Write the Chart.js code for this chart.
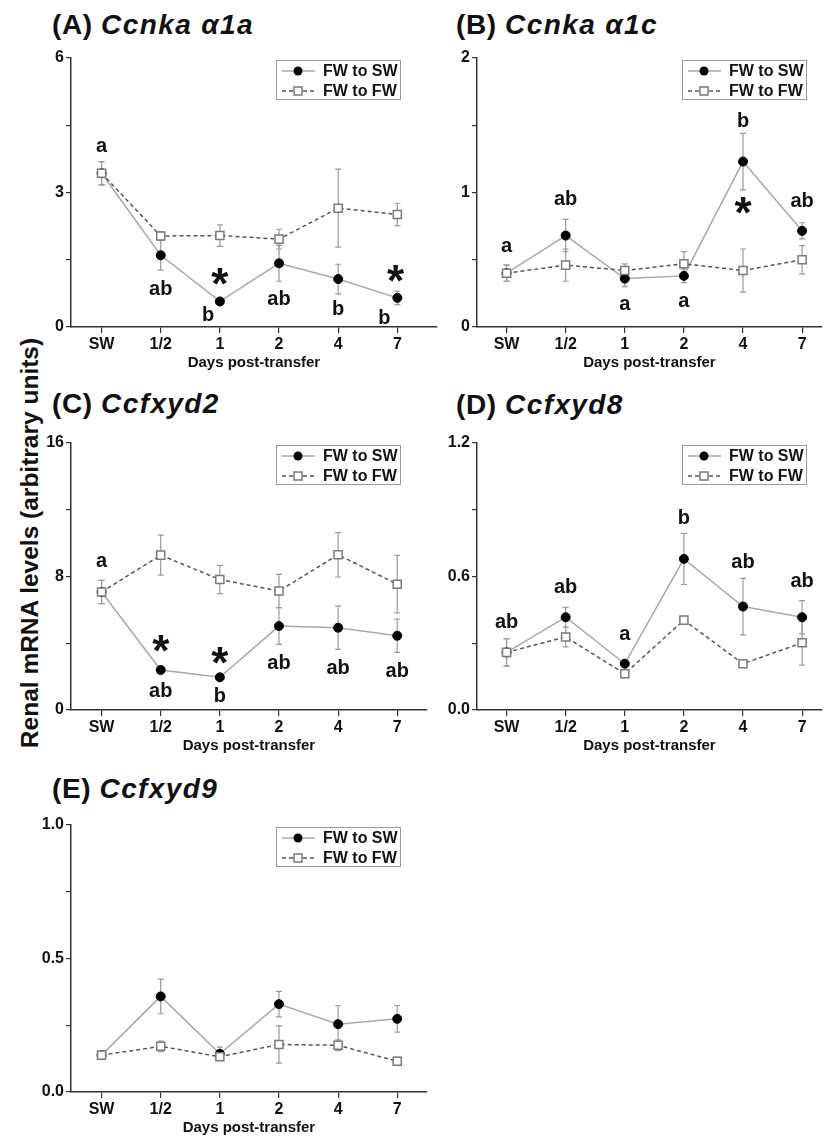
<!DOCTYPE html>
<html>
<head>
<meta charset="utf-8">
<script src="https://cdn.jsdelivr.net/npm/chart.js@4.4.1/dist/chart.umd.min.js"></script>
<style>
  body{margin:0;background:#fff;}
  #page{position:relative;width:827px;height:1136px;overflow:hidden;font-family:"Liberation Sans",Arial,sans-serif;color:#111;}
  .ttl{position:absolute;font-size:28px;font-weight:bold;line-height:28px;white-space:nowrap;letter-spacing:0.6px;}
  .ttl i{font-style:italic;letter-spacing:1.4px;}
  .cv{position:absolute;}
  #ylab{position:absolute;left:30px;top:543px;transform:translate(-50%,-50%) rotate(-90deg);font-size:24.5px;font-weight:bold;white-space:nowrap;line-height:1;}
</style>
</head>
<body>
<div id="page">
  <div class="ttl" style="left:52px;top:11px">(A) <i>Ccnka α1a</i></div>
  <div class="ttl" style="left:456px;top:11px">(B) <i>Ccnka α1c</i></div>
  <div class="ttl" style="left:52px;top:390px">(C) <i>Ccfxyd2</i></div>
  <div class="ttl" style="left:456px;top:391px">(D) <i>Ccfxyd8</i></div>
  <div class="ttl" style="left:52px;top:775px">(E) <i>Ccfxyd9</i></div>
  <div id="ylab">Renal mRNA levels (arbitrary units)</div>
  <canvas id="cA" class="cv"></canvas>
  <canvas id="cB" class="cv"></canvas>
  <canvas id="cC" class="cv"></canvas>
  <canvas id="cD" class="cv"></canvas>
  <canvas id="cE" class="cv"></canvas>
</div>
<script>
const days = ['SW', '1/2', '1', '2', '4', '7'];
const legendLabels = ['FW to SW', 'FW to FW'];

// (A) Ccnka α1a
const a1aSW = [3.43, 1.60, 0.57, 1.42, 1.07, 0.65];
const a1aSWErr = [0.26, 0.33, 0.06, 0.40, 0.33, 0.15];
const a1aFW = [3.43, 2.03, 2.04, 1.96, 2.65, 2.51];
const a1aFWErr = [0.26, 0.10, 0.24, 0.22, 0.87, 0.25];
const a1aYTicks = [0, 3, 6];
const a1aYLabels = ['0', '3', '6'];
const a1aMarks = [['a', 0, 4.03], ['ab', 1, 0.89], ['b', 1.8, 0.30], ['*', 2, 1.12], ['ab', 3, 0.66], ['b', 4, 0.43], ['b', 4.78, 0.24], ['*', 4.97, 1.20]];

// (B) Ccnka α1c
const a1cSW = [0.40, 0.68, 0.36, 0.38, 1.23, 0.715];
const a1cSWErr = [0.06, 0.12, 0.06, 0.05, 0.21, 0.06];
const a1cFW = [0.40, 0.46, 0.42, 0.47, 0.42, 0.50];
const a1cFWErr = [0.06, 0.12, 0.05, 0.09, 0.16, 0.105];
const a1cYTicks = [0, 1, 2];
const a1cYLabels = ['0', '1', '2'];
const a1cMarks = [['a', 0, 0.60], ['ab', 1, 0.96], ['a', 2, 0.17], ['a', 3, 0.19], ['b', 4, 1.54], ['*', 4, 0.90], ['ab', 5, 0.95]];

// (C) Ccfxyd2
const fxyd2SW = [7.07, 2.40, 1.96, 5.03, 4.93, 4.45];
const fxyd2SWErr = [0.7, 0.2, 0.1, 1.1, 1.3, 1.0];
const fxyd2FW = [7.07, 9.28, 7.82, 7.13, 9.30, 7.54];
const fxyd2FWErr = [0.7, 1.2, 0.85, 1.0, 1.33, 1.72];
const fxyd2YTicks = [0, 8, 16];
const fxyd2YLabels = ['0', '8', '16'];
const fxyd2Marks = [['a', 0, 8.88], ['*', 1, 3.99], ['ab', 1, 1.24], ['*', 2, 3.29], ['b', 2, 0.9], ['ab', 3, 2.93], ['ab', 4, 2.63], ['ab', 5, 2.45]];

// (D) Ccfxyd8
const fxyd8SW = [0.259, 0.417, 0.208, 0.679, 0.465, 0.417];
const fxyd8SWErr = [0.062, 0.044, 0.01, 0.115, 0.127, 0.075];
const fxyd8FW = [0.259, 0.328, 0.163, 0.404, 0.208, 0.302];
const fxyd8FWErr = [0.062, 0.044, 0.01, 0.01, 0.01, 0.10];
const fxyd8YTicks = [0, 0.6, 1.2];
const fxyd8YLabels = ['0.0', '0.6', '1.2'];
const fxyd8Marks = [['ab', 0, 0.404], ['ab', 1, 0.558], ['a', 2, 0.341], ['b', 3, 0.871], ['ab', 4, 0.673], ['ab', 5, 0.587]];

// (E) Ccfxyd9
const fxyd9SW = [0.138, 0.358, 0.143, 0.329, 0.254, 0.274];
const fxyd9SWErr = [0.01, 0.065, 0.025, 0.048, 0.07, 0.05];
const fxyd9FW = [0.138, 0.171, 0.132, 0.178, 0.175, 0.115];
const fxyd9FWErr = [0.01, 0.02, 0.01, 0.07, 0.02, 0.015];
const fxyd9YTicks = [0, 0.5, 1.0];
const fxyd9YLabels = ['0.0', '0.5', '1.0'];
const fxyd9Marks = [];

const FONT = '"Liberation Sans", Arial, sans-serif';
const INK = '#111';
const AXIS = '#333';
const PAD_TOP = 13, X_AXIS_H = 45;

// error bars under the markers
const errorBars = {
  id: 'errorBars',
  beforeDatasetsDraw(chart) {
    const { ctx, scales: { x, y } } = chart;
    ctx.save();
    ctx.strokeStyle = '#9a9a9a';
    ctx.lineWidth = 1.2;
    chart.data.datasets.forEach((ds) => {
      ds.data.forEach((p, i) => {
        const e = ds.errs[i];
        const px = x.getPixelForValue(p.x);
        const top = y.getPixelForValue(p.y + e);
        const bot = y.getPixelForValue(p.y - e);
        ctx.beginPath();
        ctx.moveTo(px, top); ctx.lineTo(px, bot);
        ctx.moveTo(px - 3, top); ctx.lineTo(px + 3, top);
        ctx.moveTo(px - 3, bot); ctx.lineTo(px + 3, bot);
        ctx.stroke();
      });
    });
    ctx.restore();
  }
};

// significance letters and asterisks
const marksPlugin = {
  id: 'marks',
  afterDatasetsDraw(chart, args, opts) {
    const { ctx, scales: { x, y } } = chart;
    ctx.save();
    ctx.fillStyle = INK;
    ctx.textAlign = 'center';
    ctx.textBaseline = 'alphabetic';
    (opts.list || []).forEach(([txt, mx, my]) => {
      ctx.font = txt === '*' ? `bold 44px ${FONT}` : `bold 20px ${FONT}`;
      const m = ctx.measureText(txt);
      const px = x.getPixelForValue(mx);
      const py = y.getPixelForValue(my);
      ctx.fillText(txt, px, py + (m.actualBoundingBoxAscent - m.actualBoundingBoxDescent) / 2);
    });
    ctx.restore();
  }
};

// boxed legend, top right
const boxLegend = {
  id: 'boxLegend',
  afterDraw(chart) {
    const { ctx, chartArea } = chart;
    const left = chartArea.left + 205, top = chartArea.top + 2;
    ctx.save();
    ctx.strokeStyle = '#999';
    ctx.lineWidth = 1;
    ctx.fillStyle = '#fff';
    ctx.fillRect(left, top, 124, 39);
    ctx.strokeRect(left + 0.5, top + 0.5, 124, 39);
    chart.data.datasets.forEach((ds, i) => {
      const yy = top + 11 + i * 20;
      ctx.strokeStyle = ds.borderColor;
      ctx.lineWidth = 1.5;
      ctx.setLineDash(ds.borderDash || []);
      ctx.beginPath();
      ctx.moveTo(left + 6, yy); ctx.lineTo(left + 39, yy);
      ctx.stroke();
      ctx.setLineDash([]);
      const cx = left + 22;
      if (ds.pointStyle === 'circle') {
        ctx.fillStyle = '#000';
        ctx.beginPath(); ctx.arc(cx, yy, 4.5, 0, Math.PI * 2); ctx.fill();
      } else {
        ctx.fillStyle = '#fff';
        ctx.strokeStyle = ds.pointBorderColor;
        ctx.fillRect(cx - 4, yy - 4, 8, 8);
        ctx.strokeRect(cx - 4, yy - 4, 8, 8);
      }
      ctx.fillStyle = INK;
      ctx.font = `bold 16px ${FONT}`;
      ctx.textAlign = 'left';
      ctx.textBaseline = 'middle';
      ctx.fillText(legendLabels[i], left + 47, yy + 1);
    });
    ctx.restore();
  }
};

function toPoints(vals) {
  return vals.map((v, i) => ({ x: i, y: v }));
}

function makePanel(id, area, colLeft, xMin, xMax, yTicks, yLabels, sw, swErr, fw, fwErr, marks) {
  const cv = document.getElementById(id);
  const [aL, aT, aR, aB] = area;
  const w = aR - colLeft + 2;
  const h = aB - aT + PAD_TOP + X_AXIS_H;
  cv.style.left = colLeft + 'px';
  cv.style.top = (aT - PAD_TOP) + 'px';
  cv.style.width = w + 'px';
  cv.style.height = h + 'px';
  cv.width = w; cv.height = h;

  const yMax = yTicks[yTicks.length - 1];
  const yList = [];
  yTicks.forEach((v, i) => {
    yList.push(v);
    if (i < yTicks.length - 1) yList.push((v + yTicks[i + 1]) / 2);
  });

  return new Chart(cv.getContext('2d'), {
    type: 'line',
    data: {
      datasets: [
        {
          label: legendLabels[0], data: toPoints(sw), errs: swErr, order: 1,
          borderColor: '#a8a8a8', borderWidth: 1.5, pointStyle: 'circle', pointRadius: 4.5,
          pointBackgroundColor: '#000', pointBorderColor: '#000', pointBorderWidth: 1
        },
        {
          label: legendLabels[1], data: toPoints(fw), errs: fwErr, order: 0,
          borderColor: '#555', borderWidth: 1.5, borderDash: [4, 3], pointStyle: 'rect', pointRadius: 5.7,
          pointBackgroundColor: '#fff', pointBorderColor: '#7a7a7a', pointBorderWidth: 1.5
        }
      ]
    },
    options: {
      responsive: false,
      animation: false,
      devicePixelRatio: 1,
      layout: { padding: { top: PAD_TOP, right: w - (aR - colLeft), left: 0, bottom: 0 } },
      plugins: { legend: { display: false }, tooltip: { enabled: false }, marks: { list: marks } },
      scales: {
        x: {
          type: 'linear', min: xMin, max: xMax,
          afterBuildTicks: (s) => { s.ticks = days.map((d, i) => ({ value: i })); },
          afterFit: (s) => { s.height = X_AXIS_H; },
          ticks: { callback: (v) => days[v], color: INK, font: { family: FONT, size: 16, weight: 'bold' }, padding: 2, autoSkip: false, maxRotation: 0 },
          grid: { drawOnChartArea: false, tickLength: 6, color: AXIS, lineWidth: 1.2 },
          border: { color: AXIS, width: 1.5 },
          title: { display: true, text: 'Days post-transfer', color: INK, font: { family: FONT, size: 15, weight: 'bold' }, padding: { top: 0, bottom: 0 } }
        },
        y: {
          min: 0, max: yMax,
          afterBuildTicks: (s) => { s.ticks = yList.map((v) => ({ value: v })); },
          afterFit: (s) => { s.width = aL - colLeft; },
          ticks: {
            callback: (v) => {
              const k = yTicks.findIndex((t) => Math.abs(t - v) < 1e-9);
              return k >= 0 ? yLabels[k] : '';
            },
            color: INK, font: { family: FONT, size: 16, weight: 'bold' }, padding: 2, autoSkip: false
          },
          grid: { drawOnChartArea: false, tickLength: 5, color: AXIS, lineWidth: 1.2 },
          border: { color: AXIS, width: 1.5 }
        }
      }
    },
    plugins: [errorBars, marksPlugin, boxLegend]
  });
}

makePanel('cA', [71, 58, 442, 327], 0, -0.517, 5.667, a1aYTicks, a1aYLabels, a1aSW, a1aSWErr, a1aFW, a1aFWErr, a1aMarks);
makePanel('cB', [477, 58, 827, 327], 410, -0.5, 5.333, a1cYTicks, a1cYLabels, a1cSW, a1cSWErr, a1cFW, a1cFWErr, a1cMarks);
makePanel('cC', [71, 443, 432, 710], 0, -0.517, 5.5, fxyd2YTicks, fxyd2YLabels, fxyd2SW, fxyd2SWErr, fxyd2FW, fxyd2FWErr, fxyd2Marks);
makePanel('cD', [477, 443, 827, 710], 410, -0.5, 5.333, fxyd8YTicks, fxyd8YLabels, fxyd8SW, fxyd8SWErr, fxyd8FW, fxyd8FWErr, fxyd8Marks);
makePanel('cE', [71, 825, 432, 1092], 0, -0.517, 5.5, fxyd9YTicks, fxyd9YLabels, fxyd9SW, fxyd9SWErr, fxyd9FW, fxyd9FWErr, fxyd9Marks);
</script>
</body>
</html>
